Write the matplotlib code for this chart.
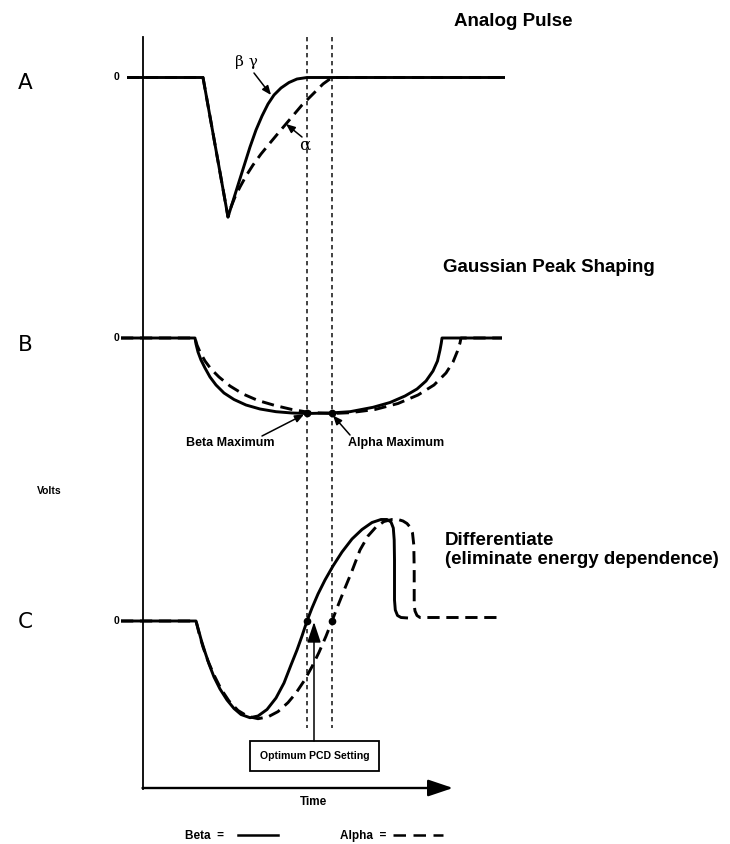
import numpy as np
import matplotlib
matplotlib.use("Agg")
import matplotlib.pyplot as plt
from matplotlib.patches import Rectangle

# ---------------- data (time in arbitrary units, volts in arbitrary units) ----------------
panels = ["A", "B", "C"]
panel_titles = ["Analog Pulse", "Gaussian Peak Shaping",
                "Differentiate\n(eliminate energy dependence)"]

# Panel A : analog pulse
time_A_beta = [-1.6, 6.0, 8.5, 9.0, 9.5, 10.1, 10.7, 11.3, 11.9, 12.5, 13.1, 13.8, 14.6, 15.4,
               16.4, 36.2]
volt_A_beta = [0, 0, -13.95, -12.35, -10.75, -8.85, -6.95, -5.25, -3.85, -2.65, -1.75, -1.05,
               -0.5, -0.15, 0, 0]
time_A_alpha = [-1.6, 6.0, 8.5, 8.8, 9.2, 9.7, 10.3, 11.0, 11.8, 12.7, 13.7, 14.8, 15.9, 17.0,
                18.0, 18.9, 36.2]
volt_A_alpha = [0, 0, -13.95, -12.95, -11.95, -10.95, -9.85, -8.75, -7.65, -6.55, -5.35, -4.05,
                -2.75, -1.65, -0.65, 0, 0]

# Panel B : gaussian peak shaping
time_B_beta = [-2.2, 5.2, 5.3, 5.5, 5.8, 6.2, 6.7, 7.3, 8.1, 9.1, 10.3, 11.7, 13.3, 14.9, 16.4,
               18.7, 20.7, 23.0, 24.7, 26.2, 27.4, 28.3, 29.0, 29.45, 29.7, 29.83, 29.9, 35.9]
volt_B_beta = [0, 0, -0.6, -1.4, -2.2, -3.0, -3.9, -4.7, -5.5, -6.15, -6.7, -7.1, -7.37, -7.5,
               -7.55, -7.5, -7.37, -6.93, -6.45, -5.8, -5.1, -4.3, -3.3, -2.3, -1.2, -0.5, 0, 0]
time_B_alpha = [-2.2, 5.2, 5.4, 5.7, 6.2, 6.8, 7.6, 8.7, 10.0, 11.5, 13.2, 14.9, 16.4, 17.7, 18.9,
                20.7, 23.2, 25.5, 27.5, 29.1, 30.3, 31.0, 31.45, 31.7, 31.8, 35.9]
volt_B_alpha = [0, 0, -0.7, -1.4, -2.3, -3.1, -3.9, -4.8, -5.6, -6.25, -6.75, -7.15, -7.4, -7.5,
                -7.55, -7.47, -7.15, -6.55, -5.7, -4.7, -3.5, -2.4, -1.3, -0.5, 0, 0]

# Panel C : differentiated signal
time_C_beta = [-2.2, 5.3, 5.55, 5.85, 6.2, 6.6, 7.1, 7.7, 8.4, 9.1, 9.8, 10.7, 11.5, 12.4, 13.3,
               14.1, 14.8, 15.4, 15.9, 16.4, 16.9, 17.5, 18.2, 19.0, 19.9, 20.9, 21.9, 22.9, 23.8,
               24.4, 24.8, 25.03, 25.12, 25.15, 25.15, 25.23, 25.45, 25.8, 26.5]
volt_C_beta = [0, 0, -0.9, -2.0, -3.1, -4.3, -5.6, -6.8, -7.9, -8.75, -9.35, -9.67, -9.5, -8.85,
               -7.7, -6.2, -4.4, -2.9, -1.5, 0, 1.3, 2.7, 4.1, 5.5, 6.9, 8.2, 9.15, 9.85, 10.15,
               10.15, 9.9, 9.3, 8.1, 6.1, 2.1, 1.1, 0.55, 0.35, 0.3]
time_C_alpha = [-2.2, 5.3, 5.6, 6.0, 6.5, 7.1, 7.8, 8.6, 9.5, 10.5, 11.5, 12.5, 13.5, 14.5, 15.3,
                16.1, 16.9, 17.6, 18.3, 18.9, 19.5, 20.2, 20.9, 21.7, 22.5, 23.3, 24.1, 24.9, 25.5,
                26.0, 26.4, 26.7, 26.95, 27.08, 27.12, 27.12, 27.2, 27.4, 27.7, 35.7]
volt_C_alpha = [0, 0, -1.2, -2.6, -4.0, -5.4, -6.8, -8.0, -8.95, -9.55, -9.77, -9.59, -9.06, -8.16,
                -7.2, -6.0, -4.57, -3.13, -1.52, 0, 1.55, 3.3, 5.0, 7.1, 8.5, 9.4, 9.95, 10.15,
                10.15, 10.0, 9.75, 9.4, 8.8, 7.6, 5.1, 1.6, 1.0, 0.55, 0.35, 0.35]

beta_max_time = 16.4   # beta maximum / zero crossing
alpha_max_time = 18.9  # alpha maximum / zero crossing

series_labels = ["Beta", "Alpha"]
axis_labels = ["Time", "Volts"]
box_label = "Optimum PCD Setting"

# ---------------- layout helpers (pixel -> data) ----------------
def X(px):
    return (px - 143) / 10.0

def Y(py):
    return -py / 10.0

base = {"A": Y(77.5), "B": Y(338), "C": Y(621)}

fig = plt.figure(figsize=(7.3, 8.44), dpi=100)
ax = fig.add_axes([0, 0, 1, 1])
ax.set_xlim(X(0), X(730))
ax.set_ylim(Y(844), Y(0))
ax.axis("off")

LW = 2.1
DASH = (0, (4.2, 2.3))
bold = dict(family="Liberation Sans", weight="bold", color="black")

curves = {
    "A": (time_A_beta, volt_A_beta, time_A_alpha, volt_A_alpha),
    "B": (time_B_beta, volt_B_beta, time_B_alpha, volt_B_alpha),
    "C": (time_C_beta, volt_C_beta, time_C_alpha, volt_C_alpha),
}
for p in panels:
    tb, vb, ta, va = curves[p]
    ax.plot(tb, base[p] + np.array(vb), color="black", lw=LW, solid_capstyle="butt",
            solid_joinstyle="round", zorder=3)
    ax.plot(ta, base[p] + np.array(va), color="black", lw=LW, linestyle=DASH,
            dash_capstyle="butt", dash_joinstyle="round", zorder=3)

# axes
ax.plot([0, 0], [Y(37), Y(789)], color="black", lw=1.3, zorder=2)
ax.annotate("", xy=(X(453), Y(788)), xytext=(X(142.5), Y(788)),
            arrowprops=dict(arrowstyle="-|>,head_length=0.95,head_width=0.32",
                            mutation_scale=16, lw=1.7, color="black",
                            shrinkA=0, shrinkB=0))

# dashed verticals at the maxima
for tm in (beta_max_time, alpha_max_time):
    ax.plot([tm, tm], [Y(37), Y(728)], color="#222222", lw=1.2,
            linestyle=(0, (2.6, 2.2)), zorder=1)

# dots (B maxima, C zero crossings)
bmin_b = min(volt_B_beta)
bmin_a = min(volt_B_alpha)
ax.plot([beta_max_time, alpha_max_time], [base["B"] + bmin_b, base["B"] + bmin_a], "o",
        color="black", ms=4.5, zorder=4)
ax.plot([beta_max_time, alpha_max_time], [base["C"], base["C"]], "o",
        color="black", ms=4.5, zorder=4)

# panel letters and zero labels
for p, ypx in zip(panels, (83, 345, 622)):
    ax.text(X(25), Y(ypx), p, family="DejaVu Sans", weight="normal", fontsize=15.5,
            ha="center", va="center")
for p in panels:
    ax.text(X(117), base[p], "0", fontsize=7.5, ha="center", va="center", **bold)

# titles
ax.text(X(454), Y(21), panel_titles[0], fontsize=13.5, ha="left", va="center", **bold)
ax.text(X(443), Y(268), panel_titles[1], fontsize=13.5, ha="left", va="center", **bold)
ax.text(X(445), Y(550), panel_titles[2], fontsize=13.5, ha="left", va="center",
        linespacing=1.15, **bold)

# greek labels with arrows (panel A)
arw = dict(arrowstyle="-|>,head_length=0.6,head_width=0.25", mutation_scale=9, lw=1.1,
           color="black", shrinkA=0, shrinkB=0)
ax.text(X(246), Y(62), "\u03b2 \u03b3", family="DejaVu Serif", fontsize=11,
        ha="center", va="center")
ax.annotate("", xy=(X(271), Y(95)), xytext=(X(254), Y(73)), arrowprops=arw)
ax.text(X(305), Y(145), "\u03b1", family="DejaVu Serif", fontsize=12,
        ha="center", va="center")
ax.annotate("", xy=(X(286), Y(124)), xytext=(X(302), Y(137)), arrowprops=arw)

# maximum labels (panel B)
ax.text(X(230), Y(443), "Beta Maximum", fontsize=9, ha="center", va="center", **bold)
ax.text(X(396), Y(443), "Alpha Maximum", fontsize=9, ha="center", va="center", **bold)
ax.annotate("", xy=(beta_max_time - 0.3, base["B"] + bmin_b - 0.1), xytext=(X(262), Y(436)),
            arrowprops=arw)
ax.annotate("", xy=(alpha_max_time + 0.1, base["B"] + bmin_a - 0.2), xytext=(X(350), Y(435)),
            arrowprops=arw)

# optimum PCD setting box + arrow
ax.add_patch(Rectangle((X(250), Y(771)), X(379) - X(250), Y(741) - Y(771),
                       fill=False, lw=1.3, edgecolor="black"))
ax.text(X(314.5), Y(756), box_label, fontsize=7.6, ha="center", va="center", **bold)
ax.annotate("", xy=(X(314), Y(622)), xytext=(X(314), Y(741)),
            arrowprops=dict(arrowstyle="-|>,head_length=0.9,head_width=0.3",
                            mutation_scale=14, lw=1.1, color="black",
                            shrinkA=0, shrinkB=0))

# axis labels
ax.text(X(314), Y(802), axis_labels[0], fontsize=8.5, ha="center", va="center", **bold)
ax.text(X(49), Y(491), axis_labels[1], fontsize=7.5, ha="center", va="center", **bold)

# legend
ax.text(X(185), Y(836), series_labels[0] + "  =", fontsize=8.5, ha="left", va="center", **bold)
ax.plot([X(238), X(278)], [Y(835), Y(835)], color="black", lw=1.8)
ax.text(X(340), Y(836), series_labels[1] + "  =", fontsize=8.5, ha="left", va="center", **bold)
ax.plot([X(393), X(443)], [Y(835), Y(835)], color="black", lw=1.8,
        linestyle=(0, (5.0, 3.0, 5.0, 3.0, 5.0, 3.0, 1.2, 3.0)))

fig.savefig("out.png", dpi=100, facecolor="white")
